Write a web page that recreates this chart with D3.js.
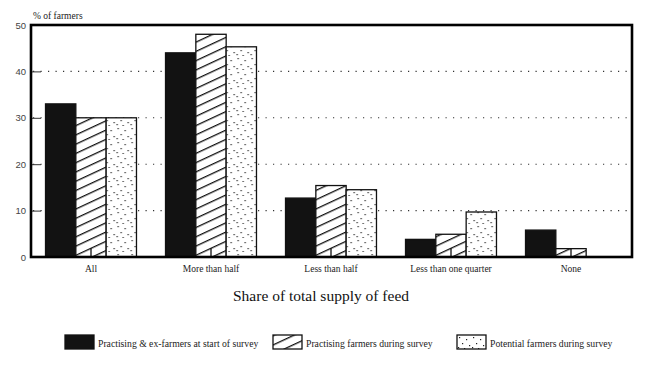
<!DOCTYPE html>
<html>
<head>
<meta charset="utf-8">
<script src="https://cdn.jsdelivr.net/npm/d3@7"></script>
<style>
  html, body { margin: 0; padding: 0; background: #fff; }
  svg { display: block; }
</style>
</head>
<body>
<svg id="chart" width="650" height="367"></svg>
<script>
// ---- data ----
const categories = ["All", "More than half", "Less than half", "Less than one quarter", "None"];
const seriesNames = [
  "Practising & ex-farmers at start of survey",
  "Practising farmers during survey",
  "Potential farmers during survey"
];
const practisingEx = [33, 44, 12.7, 3.8, 5.8];
const practisingNow = [30, 48, 15.4, 4.9, 1.8];
const potential = [30, 45.3, 14.5, 9.7, 0];
const yTicks = [0, 10, 20, 30, 40, 50];
const xTitle = "Share of total supply of feed";
const yTitle = "% of farmers";

const seriesValues = [practisingEx, practisingNow, potential];
const fills = ["solid", "hatch", "dots"];

const svg = d3.select("#chart");
const margin = { left: 31, right: 18, top: 25, bottom: 110 };
const W = 650, H = 367;
const x0 = margin.left, x1 = W - margin.right, yTop = margin.top, yBot = H - margin.bottom;

// patterns
const defs = svg.append("defs");
const hatch = defs.append("pattern")
  .attr("id", "hatch").attr("patternUnits", "userSpaceOnUse")
  .attr("width", 12).attr("height", 8.4)
  .attr("patternTransform", "rotate(-25)");
hatch.append("rect").attr("width", 12).attr("height", 8.4).attr("fill", "#fff");
hatch.append("rect").attr("x", 0).attr("y", 0).attr("width", 12).attr("height", 1.3).attr("fill", "#111");

const dots = defs.append("pattern")
  .attr("id", "dots").attr("patternUnits", "userSpaceOnUse")
  .attr("width", 14).attr("height", 14);
dots.append("rect").attr("width", 14).attr("height", 14).attr("fill", "#fff");
const dotPos = [[2, 2], [9, 4], [5, 8], [12, 10], [1, 12], [7, 13]];
dots.selectAll("rect.d").data(dotPos).join("rect").attr("class", "d")
  .attr("x", d => d[0]).attr("y", d => d[1]).attr("width", 1.2).attr("height", 1.2).attr("fill", "#222");

const fillOf = f => f === "solid" ? "#121212" : f === "hatch" ? "url(#hatch)" : "url(#dots)";

// scales
const x = d3.scaleBand().domain(categories).range([x0, x0 + 600]).paddingInner(0.242).paddingOuter(0.121);
const xs = d3.scaleBand().domain(d3.range(seriesNames.length)).range([0, x.bandwidth()]);
const y = d3.scaleLinear().domain([0, 50]).range([yBot, yTop]);

// gridlines
svg.append("g").selectAll("line").data(yTicks.filter(t => t > 0 && t < 50)).join("line")
  .attr("x1", x0 + 2).attr("x2", x1 - 2)
  .attr("y1", d => y(d)).attr("y2", d => y(d))
  .attr("stroke", "#333").attr("stroke-width", 1.1).attr("stroke-dasharray", "1.2,6.3");

// bars
const groups = svg.append("g").selectAll("g").data(categories).join("g")
  .attr("transform", d => `translate(${x(d)},0)`);
groups.selectAll("rect").data((c, i) => seriesValues.map((s, k) => ({ k, v: s[i] })))
  .join("rect")
  .filter(d => d.v > 0)
  .attr("x", d => xs(d.k)).attr("width", xs.bandwidth())
  .attr("y", d => y(d.v)).attr("height", d => yBot - y(d.v))
  .attr("fill", d => fillOf(fills[d.k]))
  .attr("stroke", "#111").attr("stroke-width", 1.3);

// y axis
const yAxis = d3.axisLeft(y).tickValues(yTicks).tickSizeInner(-10).tickSizeOuter(0).tickPadding(5);
const gy = svg.append("g").attr("transform", `translate(${x0},0)`).call(yAxis);
gy.select(".domain").remove();
gy.selectAll(".tick line").attr("stroke", "#333").attr("stroke-width", 1);
gy.selectAll(".tick text").attr("font-family", "Liberation Sans, Arial, sans-serif")
  .attr("font-size", 9.5).attr("fill", "#444");

// x axis
const xAxis = d3.axisBottom(x).tickSizeInner(-9).tickSizeOuter(0).tickPadding(8);
const gx = svg.append("g").attr("transform", `translate(0,${yBot})`).call(xAxis);
gx.select(".domain").remove();
gx.selectAll(".tick line").attr("stroke", "#111").attr("stroke-width", 1.3);
gx.selectAll(".tick text").attr("font-family", "Liberation Serif, Times New Roman, serif")
  .attr("font-size", 9.5).attr("fill", "#222");

// frame
svg.append("rect").attr("x", x0).attr("y", yTop).attr("width", x1 - x0).attr("height", yBot - yTop)
  .attr("fill", "none").attr("stroke", "#000").attr("stroke-width", 2.6);

// titles
svg.append("text").attr("x", 33).attr("y", 19).text(yTitle)
  .attr("font-family", "Liberation Serif, Times New Roman, serif").attr("font-size", 9.5).attr("fill", "#222");
svg.append("text").attr("x", 321).attr("y", 301).attr("text-anchor", "middle").text(xTitle)
  .attr("font-family", "Liberation Serif, Times New Roman, serif").attr("font-size", 15.5).attr("fill", "#111");

// legend
const legendX = [65, 273, 457];
const lg = svg.append("g").selectAll("g").data(seriesNames).join("g")
  .attr("transform", (d, i) => `translate(${legendX[i]},335)`);
lg.append("rect").attr("width", 29).attr("height", 14)
  .attr("fill", (d, i) => fillOf(fills[i])).attr("stroke", "#111").attr("stroke-width", 1.3);
lg.append("text").attr("x", 33).attr("y", 12).text(d => d)
  .attr("font-family", "Liberation Serif, Times New Roman, serif").attr("font-size", 9.7).attr("fill", "#222");
</script>
</body>
</html>
